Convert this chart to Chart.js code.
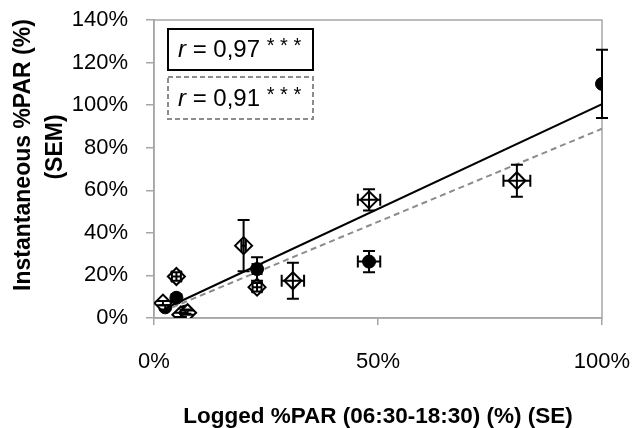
<!DOCTYPE html>
<html><head><meta charset="utf-8">
<script src="https://cdn.jsdelivr.net/npm/chart.js@4.4.1/dist/chart.umd.min.js"></script>
<style>html,body{margin:0;padding:0;background:#fff;} #wrap{width:632px;height:428px;}</style>
</head><body><div id="wrap"><canvas id="c" width="632" height="428"></canvas></div>
<script>
// ---- data (in %) ----
const circleX    = [2.5, 5, 7, 23, 48, 100];
const circleY    = [5, 9.5, 3, 23, 26.5, 110];
const circleXErr = [0, 0, 0, 1, 2.5, 0];
const circleYErr = [1, 1.5, 1, 5.5, 5, 16];

const diamondX    = [2, 5, 6, 7.5, 20, 23, 31, 48, 81];
const diamondY    = [7, 19.5, 1.5, 2.5, 34, 14.5, 17.5, 55.5, 64.5];
const diamondXErr = [0, 1, 0, 0, 0.5, 1, 2.5, 2.5, 3];
const diamondYErr = [1, 2, 1, 1, 12, 2, 8.5, 5, 7.5];

const trendSolidX  = [2, 100];
const trendSolidY  = [4, 100.5];
const trendDashedX = [2, 100];
const trendDashedY = [3.2, 88.9];

const xTicks = [0, 50, 100];
const yTicks = [0, 20, 40, 60, 80, 100, 120, 140];
const xTitle = 'Logged %PAR (06:30-18:30) (%) (SE)';
const yTitleLines = ['Instantaneous %PAR (%)', '(SEM)'];
const rValues = ['0,97', '0,91'];
const signif = '* * *';

// ---- build ----
const pts = (xs, ys) => xs.map((x, i) => ({x, y: ys[i]}));
const FONT = "'Liberation Sans', Arial, sans-serif";
const AXIS_GRAY = '#a6a6a6';

const errorBars = {
  id: 'errorBars',
  afterDatasetsDraw(chart) {
    const ctx = chart.ctx, xs = chart.scales.x, ys = chart.scales.y;
    ctx.save();
    ctx.strokeStyle = '#000';
    ctx.lineWidth = 2;
    chart.data.datasets.forEach((ds) => {
      if (!ds.errX) return;
      ds.data.forEach((p, i) => {
        const cx = xs.getPixelForValue(p.x), cy = ys.getPixelForValue(p.y);
        const ex = ds.errX[i], ey = ds.errY[i], cap = 6;
        ctx.beginPath();
        if (ey > 0) {
          const t = ys.getPixelForValue(p.y + ey), b = ys.getPixelForValue(p.y - ey);
          ctx.moveTo(cx, t); ctx.lineTo(cx, b);
          ctx.moveTo(cx - cap, t); ctx.lineTo(cx + cap, t);
          ctx.moveTo(cx - cap, b); ctx.lineTo(cx + cap, b);
        }
        if (ex > 0) {
          const l = xs.getPixelForValue(p.x - ex), r = xs.getPixelForValue(p.x + ex);
          ctx.moveTo(l, cy); ctx.lineTo(r, cy);
          ctx.moveTo(l, cy - cap); ctx.lineTo(l, cy + cap);
          ctx.moveTo(r, cy - cap); ctx.lineTo(r, cy + cap);
        }
        ctx.stroke();
      });
    });
    ctx.restore();
  }
};

const frame = {
  id: 'frame',
  beforeDatasetsDraw(chart) {
    const {ctx, chartArea: a} = chart;
    ctx.save();
    ctx.strokeStyle = AXIS_GRAY; ctx.lineWidth = 1.5;
    ctx.strokeRect(a.left, a.top, a.right - a.left, a.bottom - a.top);
    ctx.restore();
  },
  afterDraw(chart) {
    const {ctx, chartArea: a} = chart;
    ctx.save();
    // y-axis title (two lines, rotated)
    ctx.fillStyle = '#000';
    ctx.font = "bold 23px " + FONT;
    ctx.textAlign = 'center'; ctx.textBaseline = 'middle';
    const yCenters = [[24, 155], [56, 147]];
    yTitleLines.forEach((t, i) => {
      ctx.save();
      ctx.translate(yCenters[i][0], yCenters[i][1]);
      ctx.rotate(-Math.PI / 2);
      ctx.fillText(t, 0, 0);
      ctx.restore();
    });
    // r boxes
    const bx = a.left + 14, bw = 145;
    const boxes = [{top: a.top + 9, h: 41, solid: true}, {top: a.top + 57, h: 42, solid: false}];
    boxes.forEach((b, i) => {
      ctx.save();
      ctx.lineWidth = 2;
      if (b.solid) { ctx.strokeStyle = '#000'; ctx.setLineDash([]); }
      else { ctx.strokeStyle = '#8c8c8c'; ctx.setLineDash([5, 3]); }
      ctx.fillStyle = '#fff';
      ctx.fillRect(bx, b.top, bw, b.h);
      ctx.strokeRect(bx, b.top, bw, b.h);
      ctx.restore();
      const ty = b.top + b.h / 2 + 1;
      let x = bx + 10;
      ctx.fillStyle = '#000';
      ctx.textAlign = 'left'; ctx.textBaseline = 'middle';
      ctx.font = "italic 24px " + FONT;
      ctx.fillText('r', x, ty);
      x += ctx.measureText('r').width;
      ctx.font = "24px " + FONT;
      const main = ' = ' + rValues[i] + ' ';
      ctx.fillText(main, x, ty);
      x += ctx.measureText(main).width;
      ctx.font = "20px " + FONT;
      ctx.fillText(signif, x, ty - 4);
    });
    ctx.restore();
  }
};

const tickOpts = (arr) => ({
  afterBuildTicks: (s) => { s.ticks = arr.map(v => ({value: v})); }
});

new Chart(document.getElementById('c'), {
  type: 'scatter',
  data: {
    datasets: [
      {
        label: 'trend solid', type: 'line', data: pts(trendSolidX, trendSolidY),
        borderColor: '#000', borderWidth: 2, pointRadius: 0, fill: false, order: 3
      },
      {
        label: 'trend dashed', type: 'line', data: pts(trendDashedX, trendDashedY),
        borderColor: '#8c8c8c', borderWidth: 2, borderDash: [6, 4], pointRadius: 0, fill: false, order: 2
      },
      {
        label: 'circles', data: pts(circleX, circleY), errX: circleXErr, errY: circleYErr,
        pointStyle: 'circle', pointRadius: 6.5, backgroundColor: '#000', borderColor: '#000', borderWidth: 1, order: 1
      },
      {
        label: 'diamonds', data: pts(diamondX, diamondY), errX: diamondXErr, errY: diamondYErr,
        pointStyle: 'rectRot', pointRadius: 8.5, backgroundColor: '#fff', borderColor: '#000', borderWidth: 2, order: 0
      }
    ]
  },
  options: {
    responsive: false, animation: false, devicePixelRatio: 1,
    layout: {padding: {left: 0, right: 30, top: 20, bottom: 0}},
    plugins: {legend: {display: false}, tooltip: {enabled: false}},
    scales: {
      x: {
        type: 'linear', min: 0, max: 100,
        ...tickOpts(xTicks),
        afterFit: (s) => { s.height = 110; s.paddingLeft = 0; s.paddingRight = 0; },
        ticks: {callback: v => v + '%', color: '#000', padding: 24, maxRotation: 0, font: {family: FONT, size: 22}},
        grid: {drawOnChartArea: false, drawTicks: true, tickLength: 7, color: AXIS_GRAY, lineWidth: 1.5},
        border: {color: AXIS_GRAY, width: 1.5},
        title: {display: true, text: xTitle, color: '#000', padding: {top: 0, bottom: 0},
                font: {family: FONT, size: 22.5, weight: 'bold', lineHeight: 1.0}}
      },
      y: {
        type: 'linear', min: 0, max: 140,
        ...tickOpts(yTicks),
        afterFit: (s) => { s.width = 154; s.paddingTop = 0; s.paddingBottom = 0; },
        ticks: {callback: v => v + '%', color: '#000', padding: 18, font: {family: FONT, size: 22}},
        grid: {drawOnChartArea: false, drawTicks: true, tickLength: 8, color: AXIS_GRAY, lineWidth: 1.5},
        border: {color: AXIS_GRAY, width: 1.5}
      }
    }
  },
  plugins: [frame, errorBars]
});
</script></body></html>
